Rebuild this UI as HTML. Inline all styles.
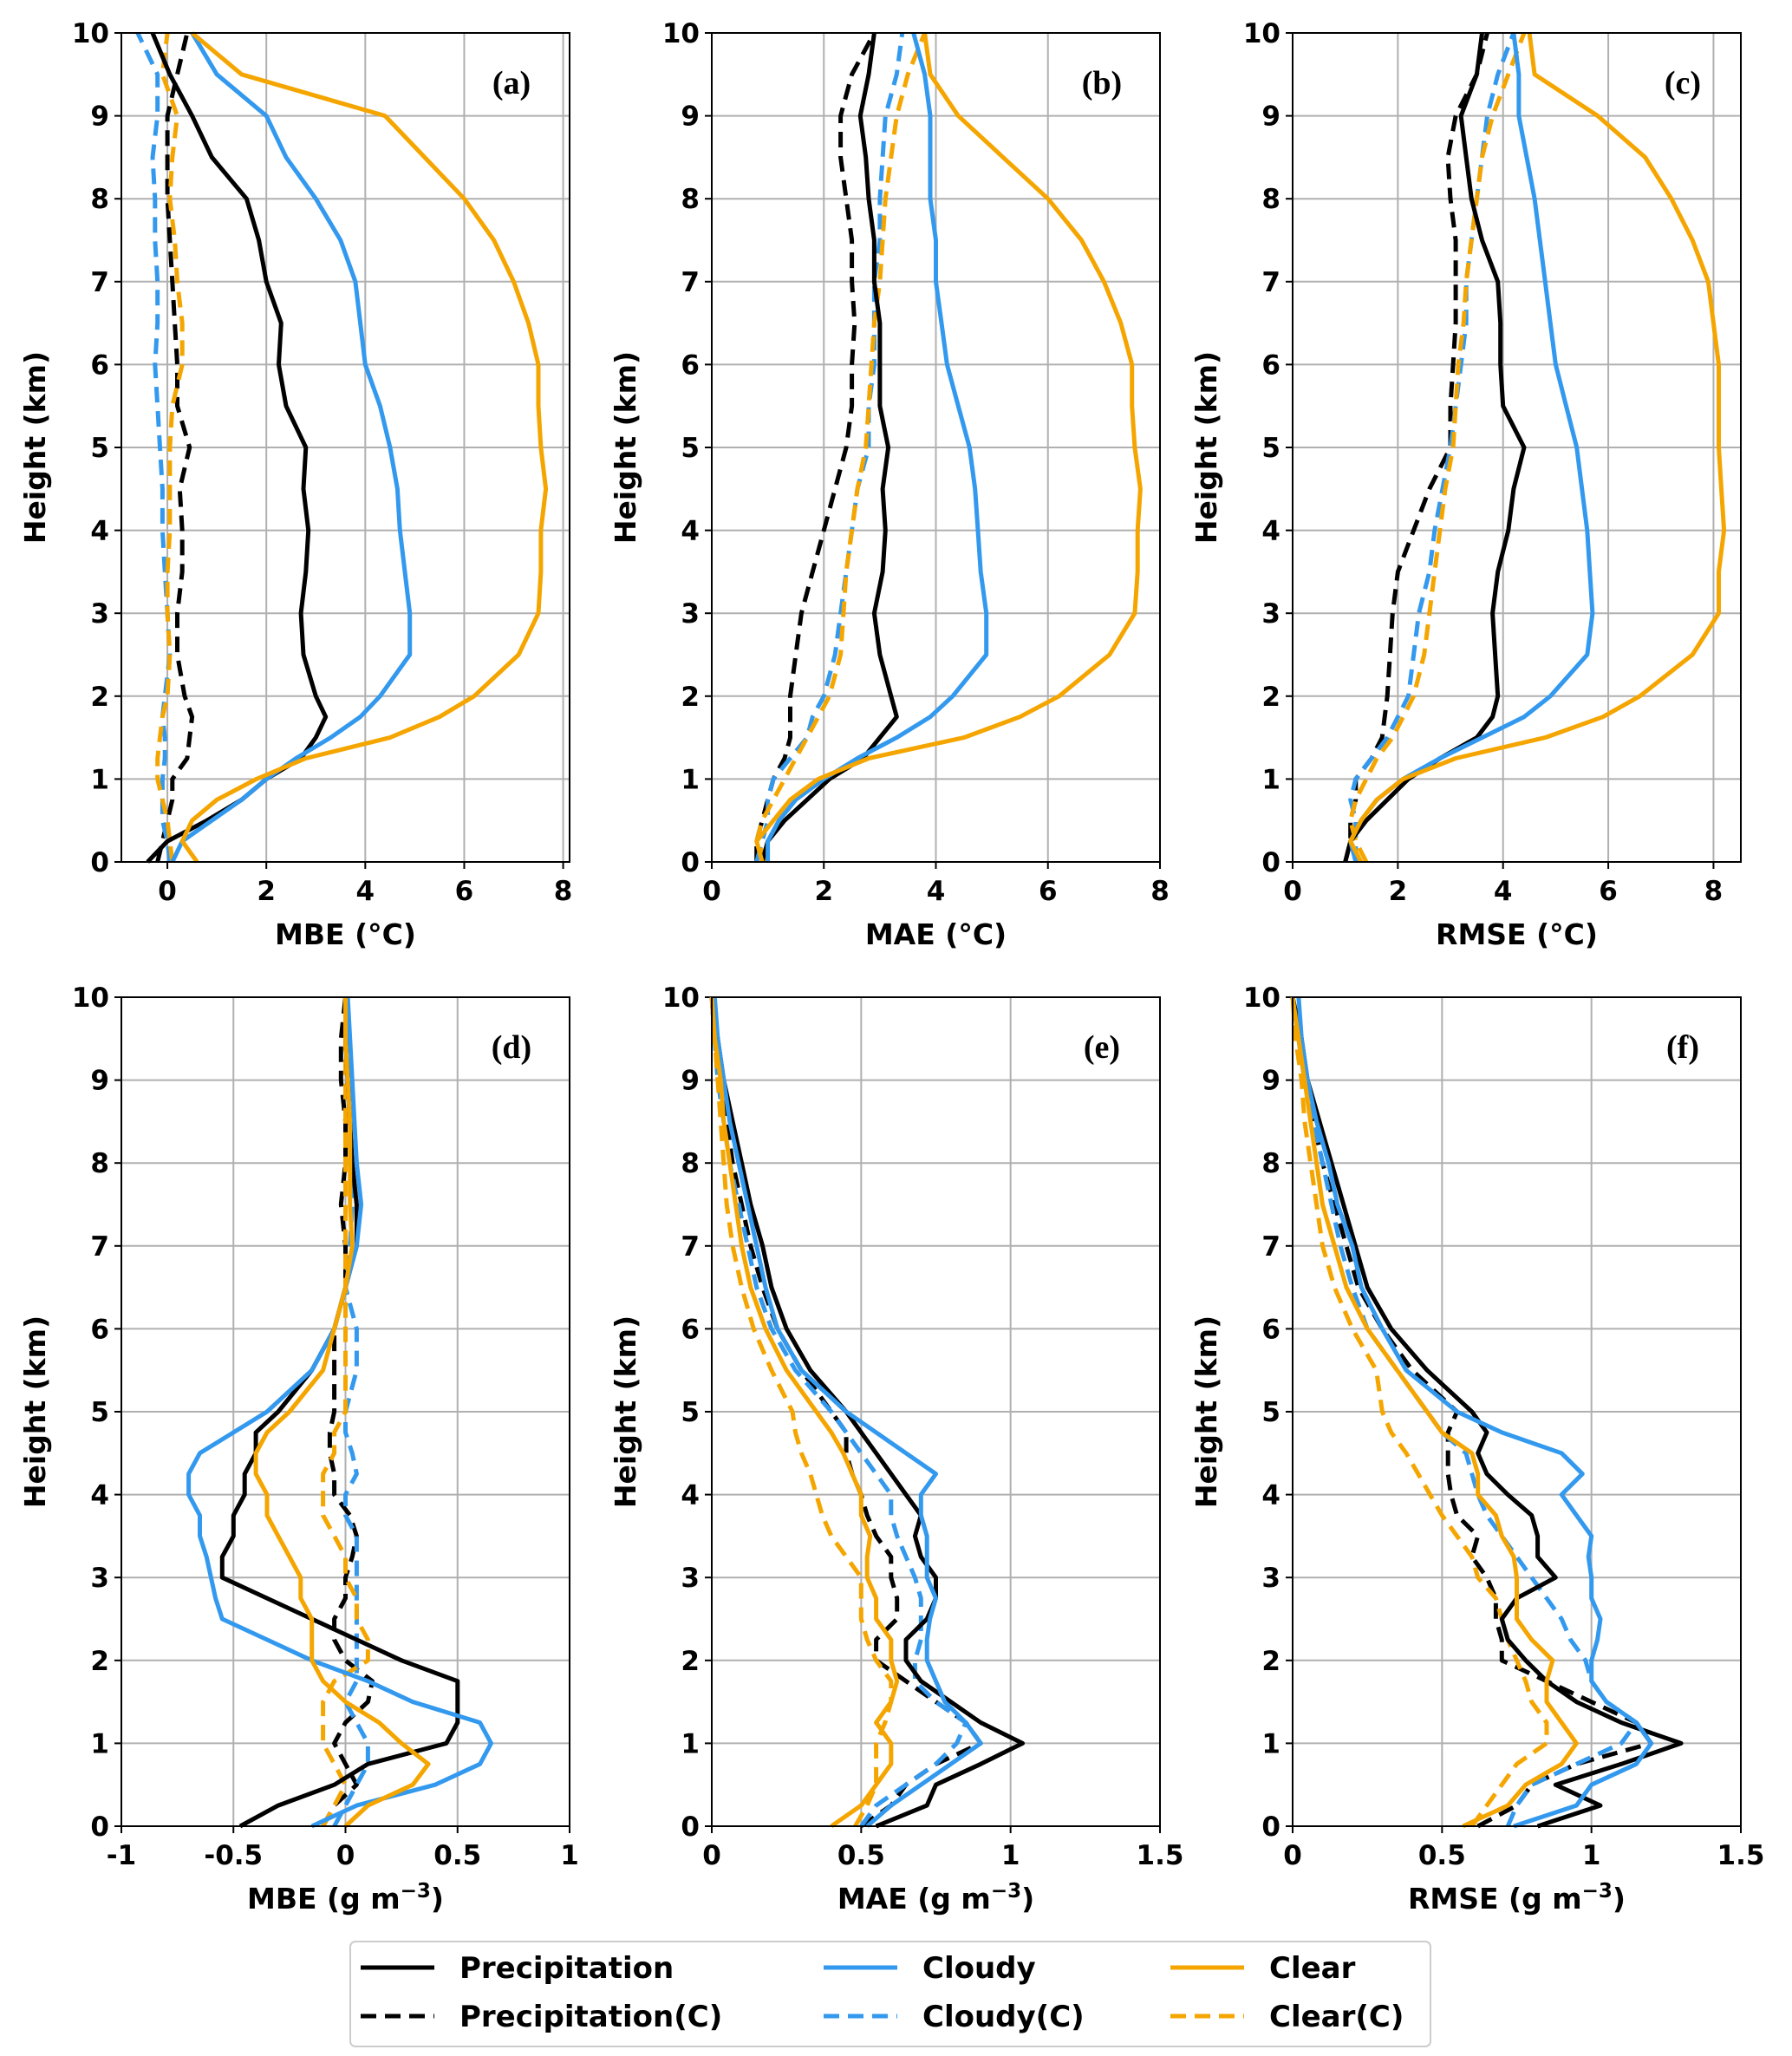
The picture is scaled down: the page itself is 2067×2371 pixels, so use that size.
<!DOCTYPE html>
<html><head><meta charset="utf-8">
<style>
body{margin:0;background:#fff;}
svg{display:block;}
text{font-family:"DejaVu Sans","Liberation Sans",sans-serif;font-weight:bold;fill:#000;}
</style></head>
<body>
<svg id="fig" width="2067" height="2371" viewBox="0 0 2067 2371" xmlns="http://www.w3.org/2000/svg"></svg>
<script>
const H1 = [0,0.25,0.5,0.75,1,1.25,1.5,1.75,2,2.5,3,3.5,4,4.5,5,5.5,6,6.5,7,7.5,8,8.5,9,9.5,10];
const H2 = [0,0.25,0.5,0.75,1,1.25,1.5,1.75,2,2.25,2.5,2.75,3,3.25,3.5,3.75,4,4.25,4.5,4.75,5,5.5,6,6.5,7,7.5,8,8.5,9,9.5,10];
const seriesNames = ["Precipitation","Cloudy","Clear","Precipitation(C)","Cloudy(C)","Clear(C)"];
const yTicks = [0,1,2,3,4,5,6,7,8,9,10];
const ticksA = [0,2,4,6,8];
const ticksD = [-1,-0.5,0,0.5,1];
const ticksE = [0,0.5,1,1.5];
const ticksDLabels = ["-1","-0.5","0","0.5","1"];
const ticksELabels = ["0","0.5","1","1.5"];

const aPrecip=[-0.4,0,0.8,1.5,2.0,2.7,3.0,3.2,3.0,2.75,2.7,2.8,2.85,2.75,2.8,2.4,2.25,2.3,2.0,1.85,1.6,0.9,0.5,0.05,-0.3];
const aCloudy=[0.1,0.3,0.9,1.5,2.0,2.6,3.3,3.9,4.3,4.9,4.9,4.8,4.7,4.65,4.5,4.3,4.0,3.9,3.8,3.5,3.0,2.4,2.0,1.0,0.5];
const aClear=[0.6,0.3,0.5,1.0,1.8,2.8,4.5,5.5,6.2,7.1,7.5,7.55,7.55,7.65,7.55,7.5,7.5,7.3,7.0,6.6,6.0,5.2,4.4,1.5,0.5];
const aPrecipC=[-0.2,-0.1,0,0.1,0.1,0.4,0.45,0.5,0.35,0.2,0.2,0.3,0.3,0.25,0.45,0.2,0.2,0.15,0.1,0.05,0,0,0,0.2,0.4];
const aCloudyC=[0.05,0,-0.1,-0.1,-0.1,-0.05,-0.05,-0.1,-0.05,0.05,0,-0.05,-0.1,-0.1,-0.15,-0.2,-0.25,-0.2,-0.2,-0.25,-0.25,-0.3,-0.2,-0.2,-0.6];
const aClearC=[0.1,0.05,0,-0.1,-0.2,-0.2,-0.15,-0.1,0,0.05,0,0,0.05,0.05,0.05,0.1,0.3,0.3,0.2,0.15,0.05,0.1,0.2,-0.1,0];

const bPrecip=[0.9,1.0,1.3,1.7,2.1,2.7,3.0,3.3,3.2,3.0,2.9,3.05,3.1,3.05,3.15,3.0,3.0,3.0,2.9,2.9,2.8,2.75,2.65,2.8,2.9];
const bCloudy=[1.0,1.0,1.2,1.5,2.0,2.6,3.3,3.9,4.3,4.9,4.9,4.8,4.75,4.7,4.6,4.4,4.2,4.1,4.0,4.0,3.9,3.9,3.9,3.8,3.6];
const bClear=[0.9,0.8,1.1,1.4,1.9,2.8,4.5,5.5,6.2,7.1,7.55,7.6,7.6,7.65,7.55,7.5,7.5,7.3,7.0,6.6,6.0,5.2,4.4,3.9,3.8];
const bPrecipC=[0.8,0.8,0.9,1.0,1.1,1.3,1.4,1.4,1.4,1.5,1.6,1.8,2.0,2.2,2.4,2.5,2.5,2.55,2.5,2.5,2.4,2.3,2.3,2.5,2.9];
const bCloudyC=[0.8,0.9,1.0,1.0,1.1,1.4,1.7,1.8,2.0,2.2,2.3,2.4,2.5,2.6,2.8,2.8,2.9,2.9,2.9,3.0,3.0,3.05,3.1,3.3,3.4];
const bClearC=[1.0,0.8,0.9,1.1,1.3,1.5,1.7,1.9,2.1,2.3,2.35,2.4,2.5,2.6,2.75,2.8,2.85,2.9,3.0,3.05,3.1,3.2,3.3,3.5,3.8];

const cPrecip=[1.0,1.1,1.4,1.8,2.2,2.8,3.5,3.8,3.9,3.85,3.8,3.9,4.1,4.2,4.4,4.0,3.95,3.95,3.9,3.6,3.4,3.3,3.2,3.5,3.6];
const cCloudy=[1.2,1.1,1.3,1.6,2.1,2.8,3.6,4.4,4.9,5.6,5.7,5.65,5.6,5.5,5.4,5.2,5.0,4.9,4.8,4.7,4.6,4.45,4.3,4.3,4.2];
const cClear=[1.3,1.1,1.3,1.6,2.1,3.1,4.8,5.9,6.6,7.6,8.1,8.1,8.2,8.15,8.1,8.1,8.1,8.0,7.9,7.6,7.2,6.7,5.8,4.6,4.5];
const cPrecipC=[1.0,1.1,1.1,1.2,1.2,1.5,1.7,1.75,1.8,1.85,1.9,2.0,2.3,2.6,3.0,3.0,3.05,3.1,3.1,3.1,3.0,2.95,3.1,3.5,3.7];
const cCloudyC=[1.2,1.2,1.2,1.1,1.2,1.5,1.8,2.0,2.2,2.3,2.4,2.6,2.7,2.85,3.0,3.1,3.2,3.3,3.3,3.4,3.5,3.6,3.7,3.9,4.2];
const cClearC=[1.4,1.2,1.1,1.2,1.4,1.6,1.9,2.1,2.3,2.5,2.6,2.7,2.8,2.9,3.05,3.1,3.15,3.25,3.3,3.4,3.5,3.6,3.8,4.1,4.4];

const dPrecip=[-0.47,-0.3,-0.05,0.1,0.45,0.5,0.5,0.5,0.25,0.05,-0.15,-0.35,-0.55,-0.55,-0.5,-0.5,-0.45,-0.45,-0.4,-0.4,-0.3,-0.15,-0.05,0.0,0.05,0.05,0.03,0.02,0.01,0.0,0.0];
const dCloudy=[-0.15,0.05,0.4,0.6,0.65,0.6,0.3,0.1,-0.15,-0.35,-0.55,-0.58,-0.6,-0.62,-0.65,-0.65,-0.7,-0.7,-0.65,-0.5,-0.35,-0.15,-0.05,0.0,0.05,0.07,0.05,0.04,0.03,0.02,0.01];
const dClear=[0.0,0.1,0.3,0.37,0.25,0.15,0.0,-0.1,-0.15,-0.15,-0.15,-0.2,-0.2,-0.25,-0.3,-0.35,-0.35,-0.4,-0.4,-0.35,-0.25,-0.1,-0.05,0.0,0.03,0.02,0.02,0.02,0.01,0.0,0.0];
const dPrecipC=[-0.1,-0.05,0.05,0.0,-0.05,0.0,0.1,0.12,0.0,-0.05,-0.05,0.0,0.0,0.03,0.05,0.02,-0.05,-0.05,-0.07,-0.07,-0.05,-0.05,-0.05,0.0,0.0,-0.02,0.0,0.0,-0.02,-0.02,0.0];
const dCloudyC=[-0.05,0.0,0.05,0.1,0.1,0.05,0.0,0.05,0.05,0.05,0.05,0.05,0.05,0.05,0.05,0.0,0.0,0.05,0.03,0.0,0.0,0.05,0.05,0.0,0.02,0.03,0.02,0.02,0.02,0.01,0.0];
const dClearC=[-0.1,-0.05,0.0,-0.05,-0.1,-0.1,-0.1,-0.05,0.1,0.1,0.05,0.05,0.0,0.0,-0.05,-0.1,-0.1,-0.1,-0.05,-0.05,0.0,0.0,0.0,0.0,0.0,0.0,0.0,0.0,0.0,0.0,0.0];

const ePrecip=[0.55,0.72,0.75,0.9,1.04,0.9,0.8,0.7,0.65,0.65,0.72,0.75,0.75,0.7,0.68,0.7,0.65,0.6,0.55,0.5,0.45,0.33,0.25,0.2,0.17,0.13,0.1,0.07,0.04,0.02,0.0];
const eCloudy=[0.52,0.6,0.7,0.8,0.9,0.85,0.78,0.75,0.72,0.72,0.73,0.75,0.72,0.72,0.72,0.7,0.7,0.75,0.65,0.55,0.45,0.3,0.22,0.18,0.15,0.12,0.09,0.06,0.04,0.02,0.01];
const eClear=[0.4,0.5,0.55,0.6,0.6,0.55,0.6,0.62,0.6,0.6,0.55,0.55,0.52,0.52,0.53,0.5,0.5,0.47,0.44,0.4,0.35,0.25,0.18,0.13,0.1,0.08,0.06,0.04,0.03,0.01,0.0];
const ePrecipC=[0.5,0.6,0.65,0.75,0.9,0.85,0.75,0.65,0.55,0.55,0.62,0.62,0.6,0.6,0.55,0.52,0.5,0.47,0.45,0.45,0.4,0.3,0.22,0.17,0.13,0.1,0.07,0.05,0.03,0.01,0.0];
const eCloudyC=[0.5,0.55,0.65,0.75,0.82,0.85,0.75,0.68,0.68,0.7,0.7,0.7,0.68,0.65,0.62,0.6,0.6,0.55,0.5,0.45,0.4,0.28,0.2,0.15,0.12,0.09,0.06,0.04,0.02,0.01,0.0];
const eClearC=[0.48,0.52,0.55,0.55,0.55,0.58,0.6,0.6,0.55,0.52,0.5,0.5,0.5,0.45,0.4,0.37,0.35,0.33,0.3,0.28,0.27,0.2,0.14,0.1,0.07,0.05,0.04,0.03,0.02,0.01,0.0];

const fPrecip=[0.82,1.03,0.88,1.1,1.3,1.1,0.95,0.85,0.78,0.72,0.7,0.75,0.88,0.82,0.82,0.8,0.72,0.65,0.62,0.65,0.6,0.45,0.33,0.25,0.21,0.17,0.13,0.09,0.05,0.03,0.0];
const fCloudy=[0.74,0.95,1.0,1.15,1.2,1.15,1.05,1.0,1.0,1.02,1.03,1.0,1.0,0.99,1.0,0.95,0.9,0.97,0.9,0.7,0.55,0.38,0.3,0.23,0.2,0.15,0.12,0.08,0.05,0.03,0.02];
const fClear=[0.57,0.72,0.78,0.9,0.95,0.9,0.85,0.85,0.87,0.8,0.75,0.75,0.75,0.74,0.7,0.68,0.62,0.62,0.6,0.5,0.45,0.35,0.25,0.18,0.14,0.1,0.08,0.06,0.04,0.02,0.0];
const fPrecipC=[0.62,0.75,0.8,0.95,1.2,1.15,1.0,0.85,0.7,0.7,0.68,0.68,0.65,0.6,0.62,0.55,0.53,0.52,0.52,0.52,0.55,0.4,0.3,0.22,0.18,0.14,0.1,0.07,0.04,0.02,0.0];
const fCloudyC=[0.72,0.75,0.8,0.95,1.1,1.15,1.05,1.0,0.98,0.93,0.9,0.85,0.8,0.75,0.7,0.65,0.62,0.6,0.58,0.5,0.45,0.35,0.25,0.2,0.16,0.13,0.1,0.07,0.04,0.02,0.0];
const fClearC=[0.6,0.65,0.7,0.75,0.85,0.85,0.8,0.78,0.75,0.72,0.7,0.68,0.62,0.6,0.55,0.5,0.46,0.42,0.38,0.33,0.3,0.28,0.2,0.14,0.1,0.08,0.06,0.04,0.03,0.01,0.0];

const NS="http://www.w3.org/2000/svg";
const svg=document.getElementById('fig');
const COLORS=["#000000","#3399ee","#f5a500","#000000","#3399ee","#f5a500"];
function mk(tag,attrs,parent){const e=document.createElementNS(NS,tag);for(const k in attrs)e.setAttribute(k,attrs[k]);(parent||svg).appendChild(e);return e;}

const panels=[
 {id:"a",x0:140,y0:38,xmin:-0.93,xmax:8.13,ticks:ticksA,labels:ticksA.map(String),xlabel:"MBE (°C)",H:H1,data:[aPrecip,aCloudy,aClear,aPrecipC,aCloudyC,aClearC]},
 {id:"b",x0:821,y0:38,xmin:0,xmax:8,ticks:ticksA,labels:ticksA.map(String),xlabel:"MAE (°C)",H:H1,data:[bPrecip,bCloudy,bClear,bPrecipC,bCloudyC,bClearC]},
 {id:"c",x0:1491,y0:38,xmin:0,xmax:8.52,ticks:ticksA,labels:ticksA.map(String),xlabel:"RMSE (°C)",H:H1,data:[cPrecip,cCloudy,cClear,cPrecipC,cCloudyC,cClearC]},
 {id:"d",x0:140,y0:1150,xmin:-1,xmax:1,ticks:ticksD,labels:ticksDLabels,xlabel:"MBE (g m",H:H2,data:[dPrecip,dCloudy,dClear,dPrecipC,dCloudyC,dClearC]},
 {id:"e",x0:821,y0:1150,xmin:0,xmax:1.5,ticks:ticksE,labels:ticksELabels,xlabel:"MAE (g m",H:H2,data:[ePrecip,eCloudy,eClear,ePrecipC,eCloudyC,eClearC]},
 {id:"f",x0:1491,y0:1150,xmin:0,xmax:1.5,ticks:ticksE,labels:ticksELabels,xlabel:"RMSE (g m",H:H2,data:[fPrecip,fCloudy,fClear,fPrecipC,fCloudyC,fClearC]}
];
const W=517,HT=956;
panels.forEach(p=>{
  const g=mk('g',{});
  
  
  const sx=v=>p.x0+(v-p.xmin)/(p.xmax-p.xmin)*W;
  const sy=v=>p.y0+HT-(v/10)*HT;
  yTicks.forEach(t=>{
    const l=mk('line',{x1:p.x0,x2:p.x0+W,y1:sy(t),y2:sy(t),stroke:"#b0b0b0","stroke-width":2},g);
    
    
    mk('line',{x1:p.x0-8,x2:p.x0,y1:sy(t),y2:sy(t),stroke:"#000","stroke-width":2},g);
    const tx=mk('text',{x:p.x0-14,y:sy(t)+11,"text-anchor":"end","font-size":31},g);
    tx.textContent=t;
    
    
  });
  p.ticks.forEach((t,i)=>{
    const l=mk('line',{x1:sx(t),x2:sx(t),y1:p.y0,y2:p.y0+HT,stroke:"#b0b0b0","stroke-width":2},g);
    
    
    mk('line',{x1:sx(t),x2:sx(t),y1:p.y0+HT,y2:p.y0+HT+8,stroke:"#000","stroke-width":2},g);
    const tx=mk('text',{x:sx(t),y:p.y0+HT+44,"text-anchor":"middle","font-size":31},g);
    tx.textContent=p.labels[i];
    
    
  });
  const order=[3,4,5,0,1,2];
  order.forEach(si=>{
    const arr=p.data[si];
    const pts=arr.map((v,i)=>sx(v).toFixed(1)+","+sy(p.H[i]).toFixed(1)).join(" ");
    const attrs={points:pts,fill:"none",stroke:COLORS[si],"stroke-width":5,"stroke-linejoin":"round"};
    if(si>=3)attrs["stroke-dasharray"]="18,10";
    const pl=mk('polyline',attrs,g);
    
    
  });
  const fr=mk('rect',{x:p.x0,y:p.y0,width:W,height:HT,fill:"none",stroke:"#000","stroke-width":2},g);
  
  
  const pl=mk('text',{x:p.x0+W-67,y:p.y0+70,"text-anchor":"middle","font-size":38,style:"font-family:'Liberation Serif',serif;font-weight:bold"},g);
  pl.textContent="("+p.id+")";
  
  
  const xl=mk('text',{x:p.x0+W/2,y:p.y0+HT+95,"text-anchor":"middle","font-size":33},g);
  
  
  if(p.id>="d"){
    xl.textContent=p.xlabel;
    const s=mk('tspan',{dy:-13,"font-size":23},xl);s.textContent="−3";
    const s2=mk('tspan',{dy:13},xl);s2.textContent=")";
  } else xl.textContent=p.xlabel;
  const yl=mk('text',{x:0,y:0,"text-anchor":"middle","font-size":33,transform:`translate(${p.x0-88},${p.y0+HT/2}) rotate(-90)`},g);
  yl.textContent="Height (km)";
  
  
});
const lg=mk('g',{});


mk('rect',{x:404,y:2239,width:1246,height:121,rx:6,fill:"#fff",stroke:"#cccccc","stroke-width":2},lg);
const cols=[416,950,1350], rows=[2269,2325];
seriesNames.forEach((n,i)=>{
  const c=cols[i%3], r=rows[Math.floor(i/3)];
  const e=mk('g',{},lg);
  
  
  const a={x1:c,x2:c+85,y1:r,y2:r,stroke:COLORS[i],"stroke-width":5};
  if(i>=3)a["stroke-dasharray"]="18,10";
  mk('line',a,e);
  const t=mk('text',{x:c+114,y:r+12,"font-size":34},e);
  t.textContent=n;
});
</script>
</body></html>
